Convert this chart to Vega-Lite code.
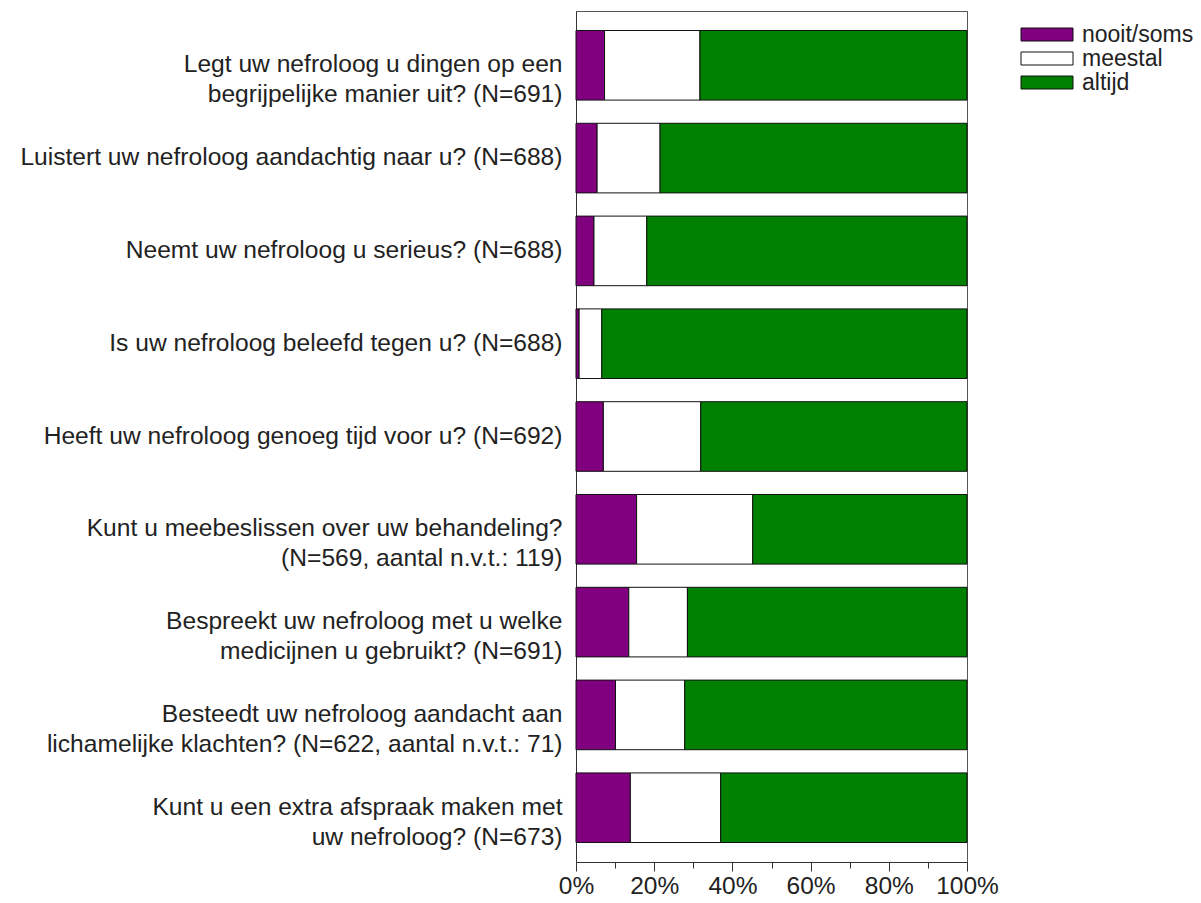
{
  "$schema": "https://vega.github.io/schema/vega-lite/v6.json",
  "autosize": "none",
  "width": 391,
  "height": 851,
  "padding": {"left": 576, "top": 11, "right": 234, "bottom": 41},
  "background": "white",
  "config": {
    "font": "Liberation Sans",
    "view": {"stroke": "#555", "strokeWidth": 1}
  },
  "data": {
    "values": [
      {"q": "Legt uw nefroloog u dingen op een|begrijpelijke manier uit? (N=691)", "cat": "nooit/soms", "o": 1, "v": 7.3},
      {"q": "Legt uw nefroloog u dingen op een|begrijpelijke manier uit? (N=691)", "cat": "meestal", "o": 2, "v": 24.4},
      {"q": "Legt uw nefroloog u dingen op een|begrijpelijke manier uit? (N=691)", "cat": "altijd", "o": 3, "v": 68.3},
      {"q": "Luistert uw nefroloog aandachtig naar u? (N=688)", "cat": "nooit/soms", "o": 1, "v": 5.4},
      {"q": "Luistert uw nefroloog aandachtig naar u? (N=688)", "cat": "meestal", "o": 2, "v": 16.1},
      {"q": "Luistert uw nefroloog aandachtig naar u? (N=688)", "cat": "altijd", "o": 3, "v": 78.5},
      {"q": "Neemt uw nefroloog u serieus? (N=688)", "cat": "nooit/soms", "o": 1, "v": 4.6},
      {"q": "Neemt uw nefroloog u serieus? (N=688)", "cat": "meestal", "o": 2, "v": 13.5},
      {"q": "Neemt uw nefroloog u serieus? (N=688)", "cat": "altijd", "o": 3, "v": 81.9},
      {"q": "Is uw nefroloog beleefd tegen u? (N=688)", "cat": "nooit/soms", "o": 1, "v": 0.8},
      {"q": "Is uw nefroloog beleefd tegen u? (N=688)", "cat": "meestal", "o": 2, "v": 5.8},
      {"q": "Is uw nefroloog beleefd tegen u? (N=688)", "cat": "altijd", "o": 3, "v": 93.4},
      {"q": "Heeft uw nefroloog genoeg tijd voor u? (N=692)", "cat": "nooit/soms", "o": 1, "v": 7.0},
      {"q": "Heeft uw nefroloog genoeg tijd voor u? (N=692)", "cat": "meestal", "o": 2, "v": 24.9},
      {"q": "Heeft uw nefroloog genoeg tijd voor u? (N=692)", "cat": "altijd", "o": 3, "v": 68.1},
      {"q": "Kunt u meebeslissen over uw behandeling?|(N=569, aantal n.v.t.: 119)", "cat": "nooit/soms", "o": 1, "v": 15.5},
      {"q": "Kunt u meebeslissen over uw behandeling?|(N=569, aantal n.v.t.: 119)", "cat": "meestal", "o": 2, "v": 29.7},
      {"q": "Kunt u meebeslissen over uw behandeling?|(N=569, aantal n.v.t.: 119)", "cat": "altijd", "o": 3, "v": 54.8},
      {"q": "Bespreekt uw nefroloog met u welke|medicijnen u gebruikt? (N=691)", "cat": "nooit/soms", "o": 1, "v": 13.5},
      {"q": "Bespreekt uw nefroloog met u welke|medicijnen u gebruikt? (N=691)", "cat": "meestal", "o": 2, "v": 15.0},
      {"q": "Bespreekt uw nefroloog met u welke|medicijnen u gebruikt? (N=691)", "cat": "altijd", "o": 3, "v": 71.5},
      {"q": "Besteedt uw nefroloog aandacht aan|lichamelijke klachten? (N=622, aantal n.v.t.: 71)", "cat": "nooit/soms", "o": 1, "v": 10.1},
      {"q": "Besteedt uw nefroloog aandacht aan|lichamelijke klachten? (N=622, aantal n.v.t.: 71)", "cat": "meestal", "o": 2, "v": 17.7},
      {"q": "Besteedt uw nefroloog aandacht aan|lichamelijke klachten? (N=622, aantal n.v.t.: 71)", "cat": "altijd", "o": 3, "v": 72.2},
      {"q": "Kunt u een extra afspraak maken met|uw nefroloog? (N=673)", "cat": "nooit/soms", "o": 1, "v": 13.9},
      {"q": "Kunt u een extra afspraak maken met|uw nefroloog? (N=673)", "cat": "meestal", "o": 2, "v": 23.1},
      {"q": "Kunt u een extra afspraak maken met|uw nefroloog? (N=673)", "cat": "altijd", "o": 3, "v": 63.0}
    ]
  },
  "mark": {"type": "bar", "stroke": "#111", "strokeWidth": 1},
  "encoding": {
    "y": {
      "field": "q",
      "type": "nominal",
      "sort": null,
      "scale": {"paddingInner": 0.25, "paddingOuter": 0.21},
      "axis": {
        "title": null,
        "labelExpr": "split(datum.label, '|')",
        "labelFontSize": 24.6,
        "labelLineHeight": 30,
        "labelColor": "#222",
        "labelPadding": 14,
        "labelLimit": 600,
        "ticks": false,
        "domainColor": "#333"
      }
    },
    "x": {
      "field": "v",
      "type": "quantitative",
      "stack": "normalize",
      "scale": {"domain": [0, 1], "nice": false},
      "axis": {
        "title": null,
        "values": [0, 0.1, 0.2, 0.3, 0.4, 0.5, 0.6, 0.7, 0.8, 0.9, 1],
        "labelExpr": "round(datum.value*10) % 2 == 0 ? format(datum.value, '.0%') : ''",
        "labelFontSize": 24.5,
        "labelColor": "#222",
        "labelPadding": 3,
        "labelOverlap": false,
        "labelFlush": false,
        "labelBound": false,
        "grid": false,
        "tickColor": "#333",
        "domainColor": "#333",
        "tickSize": {"condition": {"test": "round(datum.value*10) % 2 == 1", "value": 6}, "value": 9}
      }
    },
    "color": {
      "field": "cat",
      "type": "nominal",
      "scale": {"domain": ["nooit/soms", "meestal", "altijd"], "range": ["#800080", "#ffffff", "#008000"]},
      "legend": {
        "title": null,
        "orient": "none",
        "legendX": 459.5,
        "legendY": 12,
        "padding": 0,
        "symbolType": "M-4,-1H4V1H-4Z",
        "symbolSize": 169,
        "symbolStrokeColor": "#111",
        "symbolStrokeWidth": 1,
        "labelFontSize": 23,
        "labelColor": "#222",
        "labelOffset": 23.5,
        "labelLimit": 200,
        "rowPadding": -3.5
      }
    },
    "order": {"field": "o"}
  }
}
